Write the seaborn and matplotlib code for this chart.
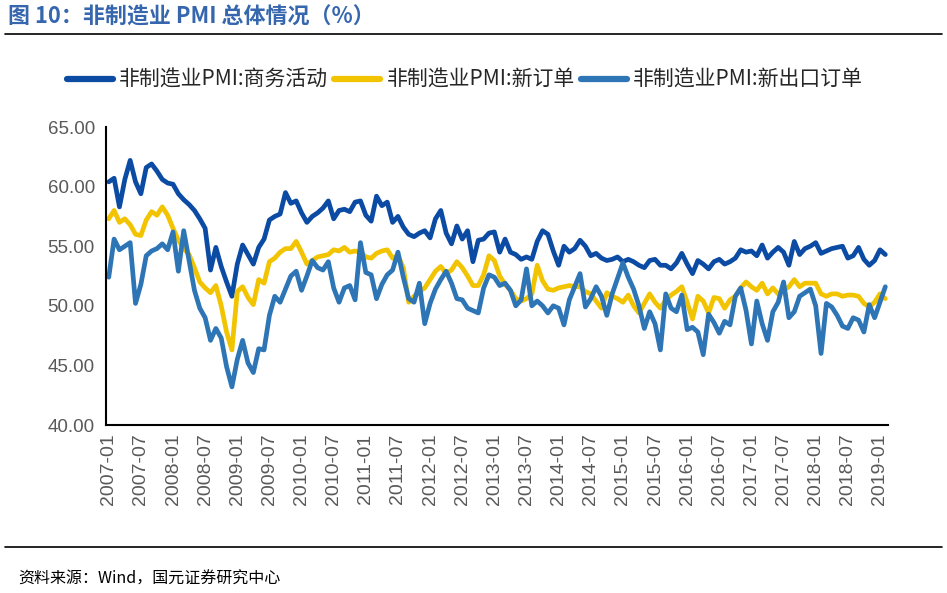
import numpy as np
import pandas as pd
import matplotlib.pyplot as plt
import seaborn as sns
from matplotlib.lines import Line2D

# 月份：2007-01 至 2019-02
months = pd.period_range('2007-01', '2019-02', freq='M').strftime('%Y-%m').tolist()

series_names = ['非制造业PMI:商务活动', '非制造业PMI:新订单', '非制造业PMI:新出口订单']

# 商务活动
business = [
    60.4, 60.7, 58.3, 60.6, 62.2, 60.4, 59.4, 61.6, 61.9, 61.3, 60.6, 60.3,  # 2007
    60.2, 59.4, 58.9, 58.5, 58.0, 57.3, 56.5, 53.0, 54.9, 53.3, 52.0, 50.8,  # 2008
    53.5, 55.1, 54.3, 53.5, 54.9, 55.6, 57.2, 57.5, 57.7, 59.5, 58.6, 58.8,  # 2009
    57.8, 57.0, 57.5, 57.8, 58.2, 58.8, 57.3, 58.0, 58.1, 57.9, 58.7, 58.8,  # 2010
    57.6, 57.1, 59.2, 58.4, 58.7, 57.0, 57.5, 56.6, 56.0, 55.8, 56.1, 56.3,  # 2011
    55.7, 57.3, 58.0, 56.1, 55.2, 56.7, 55.6, 56.3, 53.7, 55.5, 55.6, 56.1,  # 2012
    56.2, 54.5, 55.6, 54.5, 54.3, 53.9, 54.1, 53.9, 55.4, 56.3, 56.0, 54.6,  # 2013
    53.4, 55.0, 54.5, 54.8, 55.5, 55.0, 54.2, 54.4, 54.0, 53.8, 53.9, 54.1,  # 2014
    53.7, 53.9, 53.7, 53.4, 53.2, 53.8, 53.9, 53.4, 53.4, 53.1, 53.6, 54.4,  # 2015
    53.5, 52.7, 53.8, 53.5, 53.1, 53.7, 53.9, 53.5, 53.7, 54.0, 54.7, 54.5,  # 2016
    54.6, 54.2, 55.1, 54.0, 54.5, 54.9, 54.5, 53.4, 55.4, 54.3, 54.8, 55.0,  # 2017
    55.3, 54.4, 54.6, 54.8, 54.9, 55.0, 54.0, 54.2, 54.9, 53.9, 53.4, 53.8,  # 2018
    54.7, 54.3,                                                              # 2019
]

# 新订单
new_orders = [
    57.3, 58.0, 57.0, 57.3, 56.8, 56.0, 55.9, 57.2, 57.9, 57.6, 58.3, 57.6,
    56.5, 55.5, 54.8, 54.3, 53.2, 52.0, 51.5, 51.1, 51.7, 50.0, 47.8, 46.3,
    51.2, 51.6, 50.7, 50.1, 52.2, 51.9, 53.7, 54.0, 54.5, 54.8, 54.8, 55.4,
    54.5, 53.5, 53.8, 54.1, 54.2, 54.3, 54.7, 54.6, 54.9, 54.5, 54.6, 54.5,
    54.1, 54.0, 54.4, 54.6, 54.7, 54.0, 54.2, 53.2, 50.3, 50.8, 51.2, 51.5,
    52.2, 52.9, 53.3, 52.7, 53.0, 53.7, 53.2, 52.5, 51.7, 51.7, 52.6, 54.2,
    53.8, 52.5, 51.8, 51.3, 50.6, 50.4, 50.6, 51.0, 53.4, 52.1, 51.4, 51.3,
    51.5, 51.6, 51.7, 51.6, 51.6, 51.2, 51.0, 50.4, 49.8, 51.1, 50.8, 50.6,
    50.3, 50.9, 50.0, 49.4, 50.2, 51.0, 50.3, 49.8, 50.5, 50.9, 51.2, 51.6,
    50.3, 48.9, 50.8, 50.4, 49.4, 50.7, 50.6, 49.8, 50.5, 50.8, 51.5, 52.0,
    51.6, 51.3, 51.9, 51.0, 51.5, 51.0, 51.3, 51.6, 52.2, 51.6, 51.9, 51.9,
    51.9, 51.0, 50.8, 51.0, 51.0, 50.8, 50.9, 50.9, 50.8, 50.2, 49.9, 50.3,
    51.0, 50.6,
]

# 新出口订单
export_orders = [
    52.4, 55.6, 54.7, 55.0, 55.3, 50.2, 51.8, 54.2, 54.6, 54.8, 55.2, 54.7,
    56.2, 52.9, 56.3, 53.8, 51.3, 49.8, 49.0, 47.1, 48.1, 47.3, 44.9, 43.2,
    45.5, 47.1, 45.2, 44.4, 46.4, 46.3, 49.2, 50.8, 50.3, 51.4, 52.5, 52.9,
    51.3, 52.5, 53.8, 53.2, 53.0, 53.7, 51.5, 50.3, 51.5, 51.7, 50.5, 55.3,
    52.8, 52.6, 50.6, 51.8, 52.6, 53.0, 54.5, 52.4, 50.6, 50.3, 51.9, 48.5,
    50.2, 51.4, 52.2, 52.9, 51.9, 50.6, 50.5, 49.8, 49.6, 49.4, 51.5, 52.6,
    52.4, 51.7, 51.9, 51.3, 50.0, 50.5, 53.1, 50.0, 50.4, 50.0, 49.4, 50.0,
    49.8, 48.4, 50.5, 51.6, 52.7, 49.9, 50.6, 51.6, 50.8, 49.2, 51.0, 52.3,
    53.6, 52.4, 51.4, 50.0, 48.1, 49.5, 48.5, 46.3, 51.0, 49.8, 49.5, 50.9,
    48.0, 48.2, 47.8, 45.9, 49.3, 48.6, 47.7, 48.7, 48.4, 50.8, 51.5, 49.6,
    46.8, 50.4, 48.5, 47.1, 49.5, 50.3, 52.0, 49.0, 49.5, 50.8, 51.1, 51.4,
    50.0, 46.0, 50.2, 49.9, 49.2, 48.3, 48.1, 49.0, 48.8, 47.8, 50.1, 49.0,
    50.3, 51.6,
]

colors = ['#0B4BA3', '#F2C400', '#2E75B6']

n = len(months)
df = pd.DataFrame({
    'idx': list(range(n)) * 3,
    'value': business + new_orders + export_orders,
    'series': [series_names[0]] * n + [series_names[1]] * n + [series_names[2]] * n,
})

sns.set_theme(style="white")
plt.rcParams['font.family'] = ['Noto Sans CJK SC', 'DejaVu Sans']
plt.rcParams['lines.solid_joinstyle'] = 'round'
plt.rcParams['lines.solid_capstyle'] = 'round'

fig = plt.figure(figsize=(9.47, 5.93), dpi=100)
ax = fig.add_axes([0.112, 0.2833, 0.8257, 0.5025])

sns.lineplot(data=df, x='idx', y='value', hue='series', hue_order=series_names,
             palette=colors, linewidth=3.4, ax=ax, legend=False)

ax.set_xlim(-0.5, n - 0.5)
ax.set_ylim(40, 65)
ax.set_yticks(np.arange(40, 66, 5))
ax.set_yticklabels([f'{v:.2f}' for v in np.arange(40, 66, 5)],
                   family=['Liberation Sans'], fontsize=13.5, color='#595959')
ax.set_xticks(range(0, n, 6))
ax.set_xticklabels(months[::6], rotation=90, family=['Liberation Sans'],
                   fontsize=14, color='#595959')
ax.set_xticks(np.arange(-0.5, n, 6), minor=True)
ax.tick_params(axis='x', which='major', length=0, pad=6)
ax.tick_params(axis='x', which='minor', direction='in', length=5, width=1.5, color='black')
ax.tick_params(axis='y', direction='in', length=5, width=1.5, color='black', pad=8)
ax.set_xlabel('')
ax.set_ylabel('')
for s in ['top', 'right']:
    ax.spines[s].set_visible(False)
for s in ['left', 'bottom']:
    ax.spines[s].set_color('black')
    ax.spines[s].set_linewidth(1.5)

handles = [Line2D([0], [0], color=c, linewidth=4.5) for c in colors]
fig.legend(handles, series_names, loc='center', bbox_to_anchor=(0.491, 0.865), ncol=3,
           frameon=False, fontsize=15, handlelength=2.2, handletextpad=0.3,
           columnspacing=0.3, labelcolor='#262626')

# 标题、分隔线与资料来源
fig.text(0.008, 0.972, '图 10：非制造业 PMI 总体情况（%）', fontsize=15.8, fontweight='bold',
         color='#3566AE', va='center', ha='left')
fig.add_artist(Line2D([0.005, 0.995], [0.9427, 0.9427], color='black', linewidth=1.2))
fig.add_artist(Line2D([0.005, 0.995], [0.0776, 0.0776], color='black', linewidth=1.2))
fig.text(0.019, 0.024, '资料来源：Wind，国元证券研究中心', fontsize=11.5, color='black',
         va='center', ha='left')

fig.savefig('out.png', dpi=100)
